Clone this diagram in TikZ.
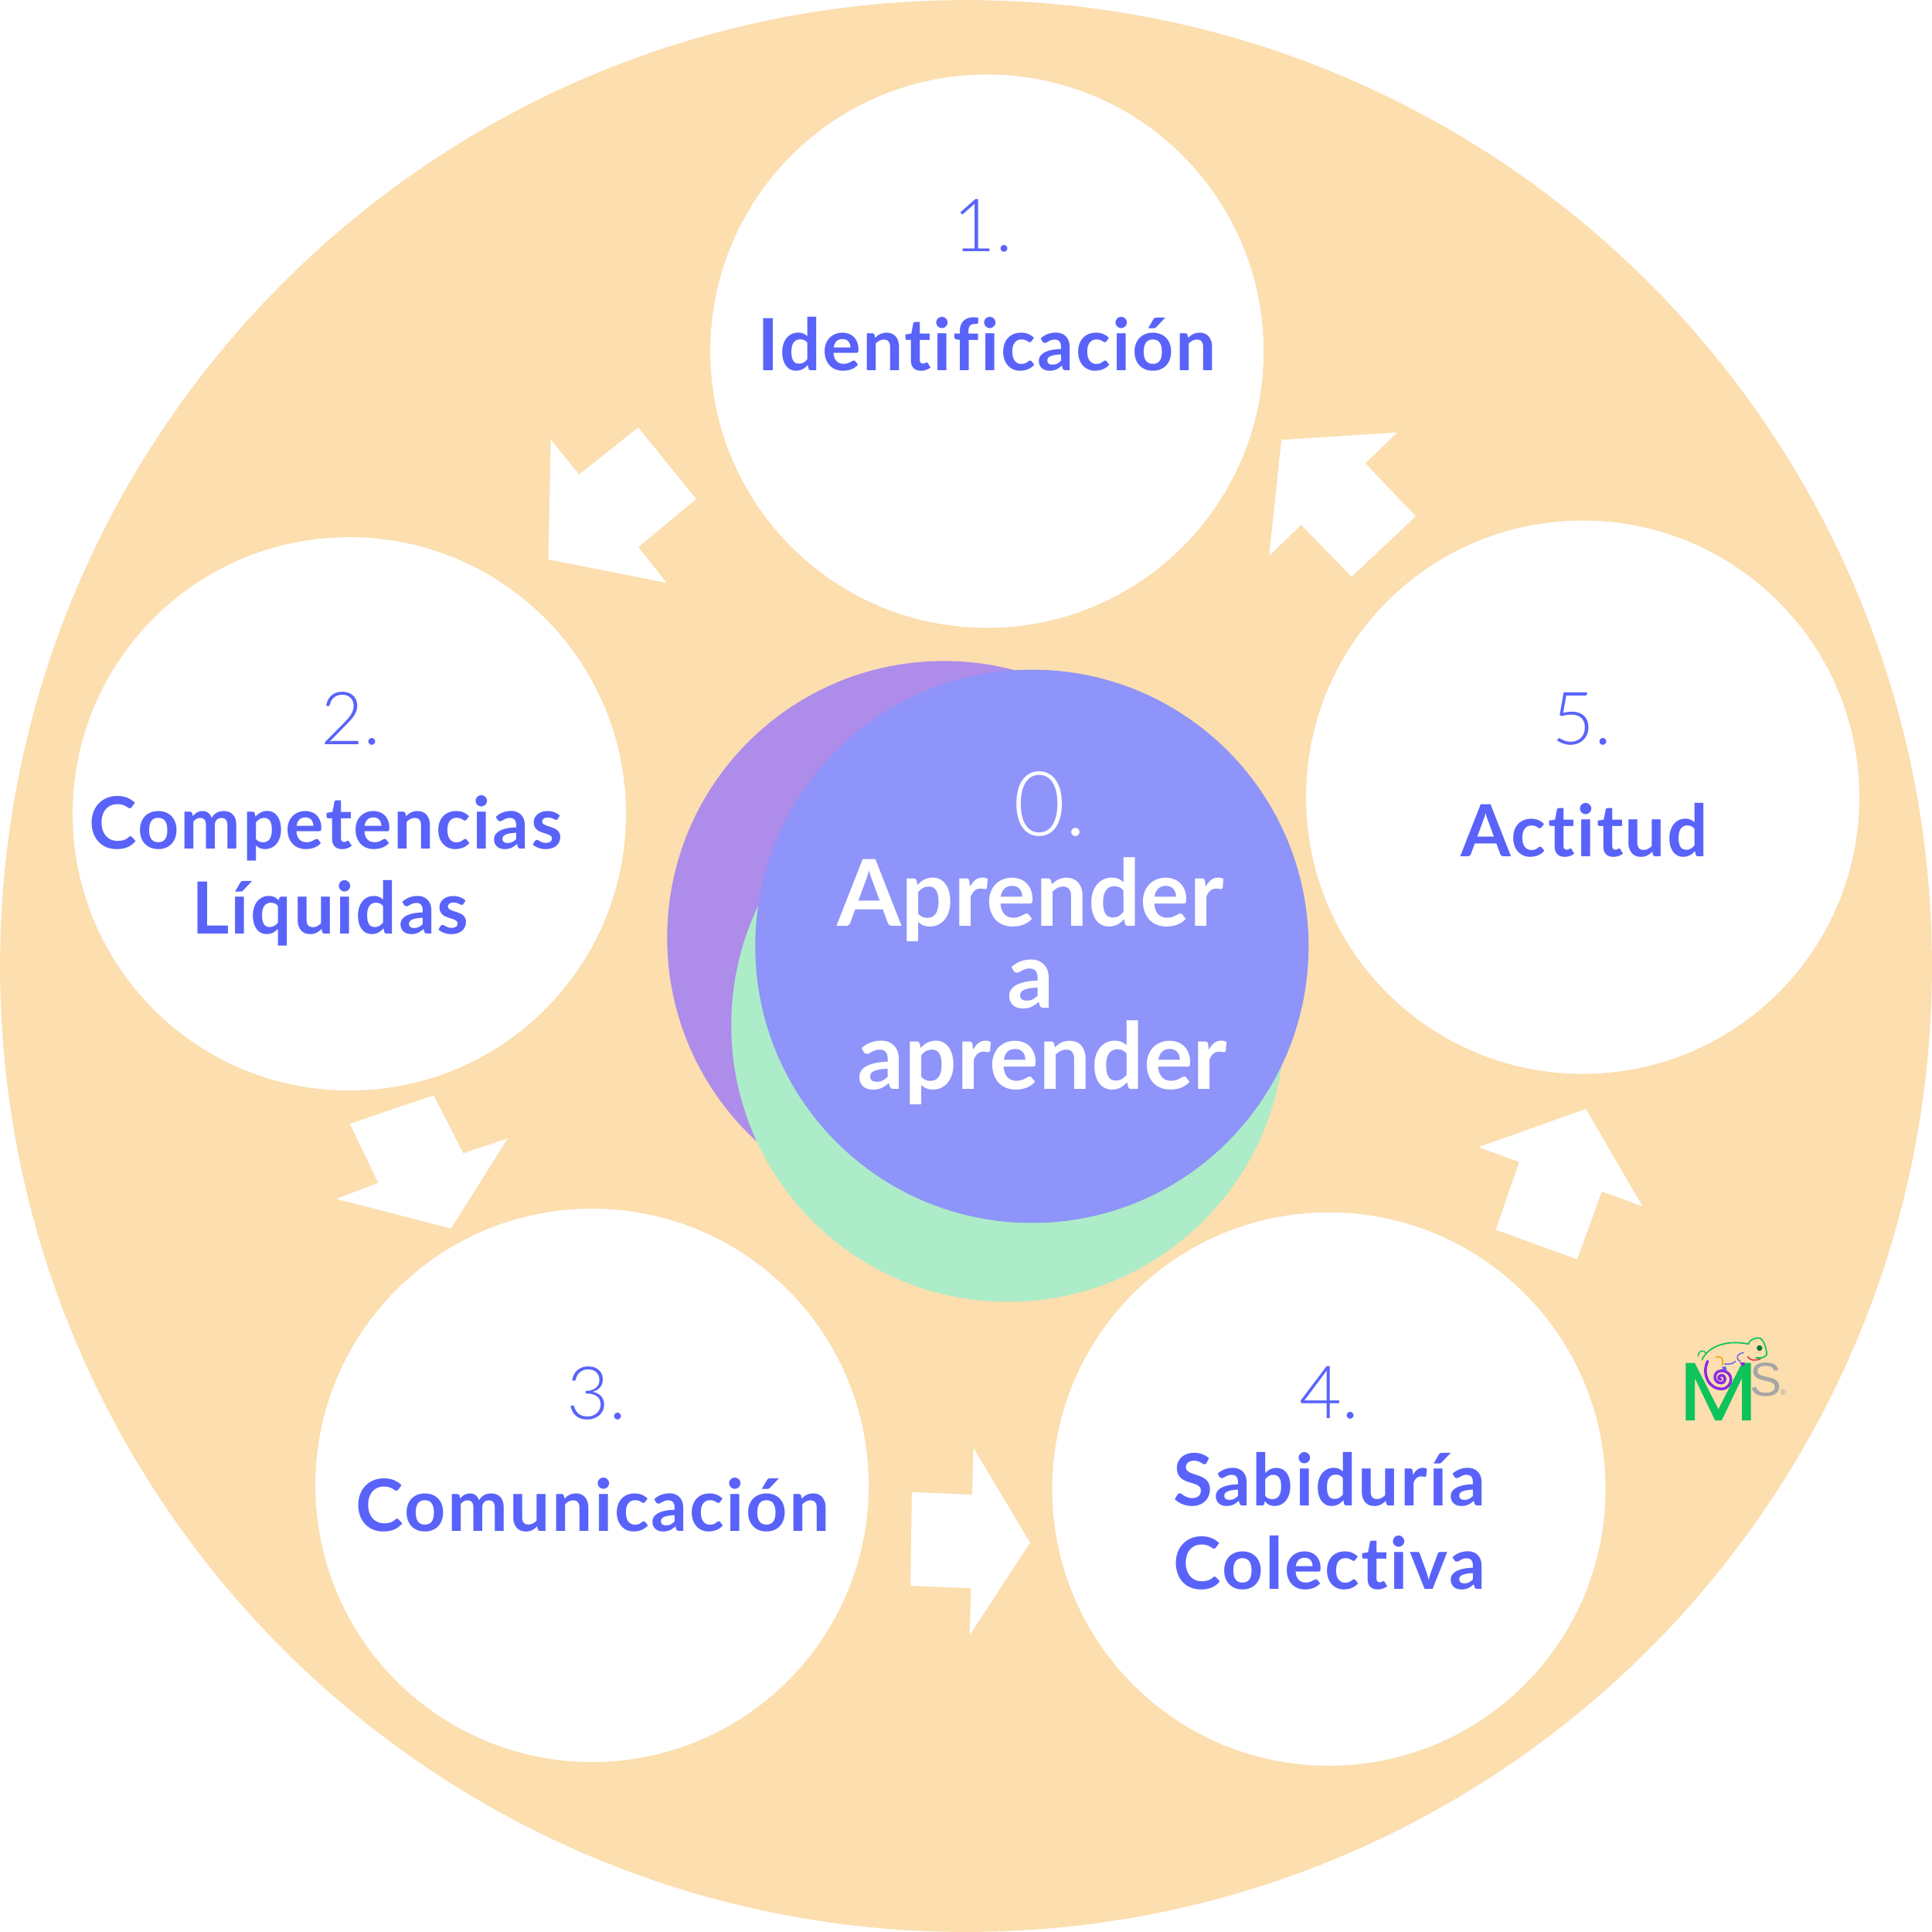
\documentclass[tikz,border=0pt]{standalone}
\usepackage{fontspec}
\setmainfont{Lato}
\newfontfamily\lightf{Lato Light}
\newfontfamily\medf[Ligatures=NoCommon,LetterSpace=2.5]{Lato Bold}
\newfontfamily\cenf[Ligatures=NoCommon,LetterSpace=0]{Lato Bold}
\newfontfamily\logof{Liberation Sans}
\definecolor{sand}{HTML}{FCDEAF}
\definecolor{txtblue}{HTML}{5963FA}
\definecolor{cblue}{HTML}{8E94F9}
\definecolor{cpurple}{HTML}{AD8CEA}
\definecolor{cgreen}{HTML}{ADECC8}
\definecolor{lgreen}{HTML}{0DC35A}
\definecolor{lpurple}{HTML}{8A2BE2}
\tikzset{
  x=0.0159439cm,y=-0.0159439cm,
  disc/.style={circle,minimum size=7.16cm,inner sep=0pt,fill=#1},
  num/.style={anchor=base,inner sep=0pt,text=txtblue,font=\lightf\fontsize{27}{27}\selectfont},
  lab/.style={anchor=base,inner sep=0pt,text=txtblue,font=\medf\fontsize{26.5}{26.5}\selectfont},
  cnum/.style={anchor=base,inner sep=0pt,text=white,font=\lightf\fontsize{33}{33}\selectfont},
  clab/.style={anchor=base,inner sep=0pt,text=white,font=\cenf\fontsize{34}{34}\selectfont},
  blockarrow/.style={fill=white,draw=none},
  swirl/.style={line width=#1,line cap=round,fill=none},
}
\begin{document}
\begin{tikzpicture}
\useasboundingbox (0,0) rectangle (1568,1568);
\fill[white] (0,0) rectangle (1568,1568);
\node[circle,minimum size=25cm,inner sep=0pt,fill=sand] (outer) at (784,784) {};
\node[disc=white] (c1) at (801,285) {};
\node[disc=white] (c2) at (283.5,660.5) {};
\node[disc=white] (c3) at (480.5,1205.5) {};
\node[disc=white] (c4) at (1078.5,1208.5) {};
\node[disc=white] (c5) at (1284.5,647) {};
\node[disc=cpurple] (cp) at (766,761) {};
\node[disc=cgreen] (cg) at (818,832) {};
\node[disc=cblue] (cb) at (837.5,768) {};
% block arrows
\fill[blockarrow] (447,357)--(470,385)--(518,347)--(565,405)--(518,444)--(541,473)--(445,454)--cycle;
\fill[blockarrow] (284,912)--(352,889)--(376,936)--(412,924)--(366,997)--(273,973)--(307,960)--cycle;
\fill[blockarrow] (740,1211)--(789,1213)--(790,1175)--(836,1252)--(787,1327)--(788,1289)--(739,1287)--cycle;
\fill[blockarrow] (1214,998)--(1233,943)--(1200,931)--(1287,900)--(1333,979)--(1300,967)--(1280,1022)--cycle;
\fill[blockarrow] (1097,468)--(1149,419)--(1108,376)--(1134,351)--(1040,357)--(1030,451)--(1056,426)--cycle;
% texts
\node[num] (n1) at (798,204) {1.};
\node[lab] (l1) at (801,301) {Identificación};
\node[num] (n2) at (285,604) {2.};
\node[lab] (l2a) at (264.5,689) {Competencias};
\node[lab] (l2b) at (268,758) {Líquidas};
\node[num] (n3) at (484,1152) {3.};
\node[lab] (l3) at (481,1243) {Comunicación};
\node[num] (n4) at (1079,1151) {4.};
\node[lab] (l4a) at (1079,1222) {Sabiduría};
\node[lab] (l4b) at (1079,1290) {Colectiva};
\node[num] (n5) at (1284,604) {5.};
\node[lab] (l5) at (1286,695) {Actitud};
\node[cnum] (n0) at (852,678) {0.};
\node[clab] (l0a) at (836.5,752) {Aprender};
\node[clab] (l0b) at (836.5,818) {a};
\node[clab] (l0c) at (846,884) {aprender};
% logo, in 3x crop coordinates
\begin{scope}[shift={(21.30cm,-17.00cm)},x=0.0033333cm,y=-0.0033333cm]
\fill[lgreen] (155,192)--(190,192)--(282,372)--(374,192)--(408,192)--(408,415)--(374,415)--(374,250)--(295,415)--(269,415)--(190,250)--(190,415)--(155,415)--cycle;
\node[anchor=base,text=black!35,font=\logof\fontsize{17.5}{17.5}\selectfont,inner sep=0pt] (ls) at (466,320) {S};
\node[anchor=base,text=black!35,font=\logof\fontsize{3}{3}\selectfont,inner sep=0pt] (lr) at (534,318) {®};
\draw[lgreen,swirl=0.5pt] (218,180) .. controls (240,130) and (310,100) .. (398,118) .. controls (405,100) and (430,90) .. (445,96) .. controls (465,110) and (470,150) .. (470,160) .. controls (460,175) and (440,172) .. (428,172);
\draw[lgreen,swirl=0.4pt] (203,165) .. controls (205,140) and (225,140) .. (235,155);
\fill[lgreen!60!black] (442,134) circle (11);
\draw[red!75!black!70,swirl=0.5pt] (396,168) .. controls (405,185) and (430,182) .. (445,176);
\draw[orange!80!yellow,swirl=0.4pt] (272,170) .. controls (295,160) and (305,180) .. (296,200);
\draw[txtblue,swirl=0.4pt] (380,152) .. controls (355,155) and (345,175) .. (368,186);
\draw[txtblue,swirl=0.4pt] (306,196) .. controls (325,198) and (340,195) .. (348,185);
\draw[lpurple,swirl=1pt] (240,185) .. controls (215,240) and (250,295) .. (295,293) .. controls (340,290) and (345,225) .. (295,222) .. controls (260,222) and (260,270) .. (292,270) .. controls (315,268) and (312,238) .. (292,240) .. controls (278,243) and (282,258) .. (292,256);
\fill[lpurple] (365,190)--(385,190)--(382,205)--(372,200)--cycle;
\fill[txtblue] (295,208)--(310,205)--(316,225)--(300,218)--cycle;
\end{scope}
\end{tikzpicture}
\end{document}
